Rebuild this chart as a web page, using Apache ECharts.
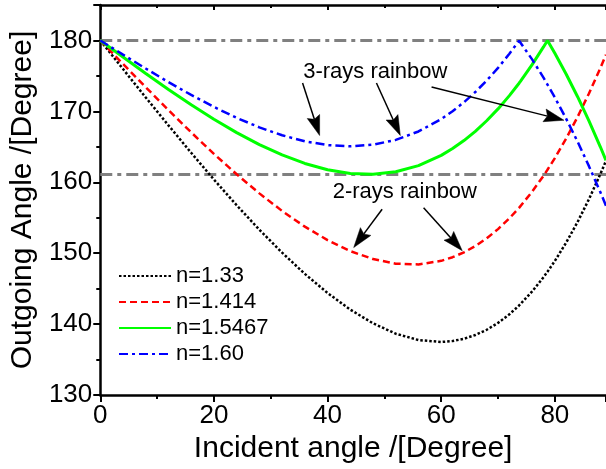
<!DOCTYPE html>
<html>
<head>
<meta charset="utf-8">
<script src="https://cdn.jsdelivr.net/npm/echarts@6/dist/echarts.min.js"></script>
<style>
html,body{margin:0;padding:0;background:#fff;}
#chart{width:606px;height:469px;}
</style>
</head>
<body>
<div id="chart"></div>
<script>
// Incident angles (degrees)
const angles = [0,4,8,12,16,20,24,28,32,36,40,44,48,52,56,60,62,64,66,68,70,72,73.7,74,76,78,78.7,80,82,84,86,88,89];
// Outgoing angles
const n133   = [180,175.97,171.97,168.03,164.16,160.39,156.77,153.32,150.08,147.09,144.40,142.05,140.12,138.66,137.76,137.49,137.62,137.94,138.47,139.21,140.18,141.40,142.63,142.87,144.61,146.62,147.39,148.92,151.51,154.41,157.62,161.15,163.03];
const n1414  = [180,176.69,173.41,170.18,167.04,164.01,161.13,158.44,155.96,153.75,151.85,150.30,149.18,148.53,148.42,148.93,149.44,150.13,151.02,152.10,153.40,154.93,156.40,156.68,158.68,160.92,161.77,163.42,166.19,169.22,172.52,176.10,178.00];
const n15467 = [180,177.66,175.35,173.10,170.94,168.90,167.01,165.32,163.86,162.66,161.77,161.25,161.14,161.48,162.35,163.80,164.76,165.89,167.19,168.68,170.35,172.22,173.97,174.30,176.59,179.09,180,178.19,175.24,172.07,168.65,165.01,163.10];
const n160   = [180,178.00,176.04,174.13,172.32,170.63,169.09,167.75,166.63,165.79,165.25,165.07,165.30,165.98,167.17,168.92,170.03,171.29,172.73,174.34,176.14,178.12,179.96,179.71,177.33,174.75,173.79,171.95,168.95,165.73,162.28,158.62,156.70];
const seriesNames = ['n=1.33','n=1.414','n=1.5467','n=1.60'];
// Reference (rainbow) levels
const refLevels = [180, 161.1];
// Axis ranges
const xRange = [0, 89], xStep = 20;
const yRange = [130, 185], yStep = 10;
// Annotation arrows: [startX, startY, endX, endY] in data units
const arrows = [
  [35.6,174.0,38.6,166.6],
  [48.6,174.0,52.8,166.6],
  [58.3,173.45,81.6,168.75],
  [49.6,156.2,44.6,150.8],
  [56.9,156.42,63.7,150.36]
];
const labels = [
  ['3-rays rainbow', 48.4, 175.6],
  ['2-rays rainbow', 53.6, 158.7]
];

const FONT = '"Liberation Sans", Arial, sans-serif';
const pair = arr => angles.map((a,i)=>[a,arr[i]]);

const chart = echarts.init(document.getElementById('chart'), null, {renderer:'canvas'});

function lineSeries(name, data, color, type, width){
  return {
    name, type:'line', data: pair(data), symbol:'none', showSymbol:false, smooth:false,
    lineStyle:{color, width, type}, itemStyle:{color}, emphasis:{disabled:true}, silent:true
  };
}

const refSeries = refLevels.map((v,k)=>({
  type:'line', symbol:'none', silent:true, data:[[xRange[0],v],[xRange[1],v]],
  lineStyle:{color:'#808080', width:3, type:[12,5,4,5]}, emphasis:{disabled:true}, z:1
}));

refSeries[0].markPoint = {
  silent:true, animation:false,
  data: labels.map(l=>({coord:[l[1],l[2]], symbol:'rect', symbolSize:1,
    itemStyle:{color:'rgba(0,0,0,0)'},
    label:{show:true, position:'inside', formatter:l[0], color:'#000', fontSize:22, fontFamily:FONT}}))
};

const option = {
  animation:false,
  backgroundColor:'#fff',
  textStyle:{fontFamily:FONT},
  grid:{left:96, right:0, top:5, bottom:64.5, containLabel:false},
  legend:{
    data:seriesNames, orient:'vertical', left:113, top:260, itemWidth:52, itemHeight:14, itemGap:4,
    itemStyle:{opacity:0},
    textStyle:{fontSize:22, color:'#000', fontFamily:FONT}, selectedMode:false
  },
  xAxis:[{
    type:'value', position:'bottom', min:xRange[0], max:xRange[1], interval:xStep,
    axisLine:{show:true, onZero:false, lineStyle:{color:'#000', width:2.5}},
    axisTick:{show:true, inside:false, length:7, lineStyle:{color:'#000', width:2}},
    minorTick:{show:true, splitNumber:2, length:4, lineStyle:{color:'#000', width:2}},
    axisLabel:{fontSize:26, color:'#000', margin:8, showMaxLabel:false, fontFamily:FONT},
    splitLine:{show:false}, minorSplitLine:{show:false},
    name:'Incident angle /[Degree]', nameLocation:'middle', nameGap:31,
    nameTextStyle:{fontSize:30, color:'#000', fontFamily:FONT}
  },{
    type:'value', position:'top', min:xRange[0], max:xRange[1], interval:xStep,
    axisLine:{show:true, onZero:false, lineStyle:{color:'#000', width:2.5}},
    axisTick:{show:true, inside:true, length:5, lineStyle:{color:'#000', width:2}},
    minorTick:{show:true, splitNumber:2, length:3, lineStyle:{color:'#000', width:2}},
    axisLabel:{show:false}, splitLine:{show:false}
  }],
  yAxis:[{
    type:'value', min:yRange[0], max:yRange[1], interval:yStep,
    axisLine:{show:true, onZero:false, lineStyle:{color:'#000', width:2.5}},
    axisTick:{show:true, inside:false, length:7, lineStyle:{color:'#000', width:2}},
    minorTick:{show:true, splitNumber:2, length:4, lineStyle:{color:'#000', width:2}},
    axisLabel:{fontSize:26, color:'#000', margin:8, showMaxLabel:false, fontFamily:FONT},
    splitLine:{show:false},
    name:'Outgoing Angle /[Degree]', nameLocation:'middle', nameGap:58, nameRotate:90,
    nameTextStyle:{fontSize:30, color:'#000', fontFamily:FONT}
  }],
  series:[
    ...refSeries,
    lineSeries(seriesNames[0], n133, '#000000', [2.5,2], 2.5),
    lineSeries(seriesNames[1], n1414, '#ff0000', [7,4], 2.5),
    lineSeries(seriesNames[2], n15467, '#00ff00', 'solid', 3),
    lineSeries(seriesNames[3], n160, '#0000ff', [9,4,3,4], 2.5)
  ]
};
chart.setOption(option);

// Arrows drawn through the chart's own coordinate conversion
const HEAD_L = 20, HEAD_W = 6.5;
const graphics = [];
arrows.forEach(a=>{
  const p0 = chart.convertToPixel({xAxisIndex:0, yAxisIndex:0}, [a[0],a[1]]);
  const p1 = chart.convertToPixel({xAxisIndex:0, yAxisIndex:0}, [a[2],a[3]]);
  const dx = p1[0]-p0[0], dy = p1[1]-p0[1];
  const len = Math.hypot(dx,dy);
  const ux = dx/len, uy = dy/len, nx = -uy, ny = ux;
  const bx = p1[0]-ux*HEAD_L, by = p1[1]-uy*HEAD_L;
  const mx = p1[0]-ux*HEAD_L*0.85, my = p1[1]-uy*HEAD_L*0.85;
  graphics.push({type:'line', silent:true, z:50,
    shape:{x1:p0[0], y1:p0[1], x2:mx, y2:my},
    style:{stroke:'#000', lineWidth:1.5}});
  graphics.push({type:'polygon', silent:true, z:50,
    shape:{points:[[p1[0],p1[1]],[bx+nx*HEAD_W,by+ny*HEAD_W],[mx,my],[bx-nx*HEAD_W,by-ny*HEAD_W]]},
    style:{fill:'#000', stroke:'#000', lineWidth:0.5}});
});
chart.setOption({graphic: graphics});
</script>
</body>
</html>
